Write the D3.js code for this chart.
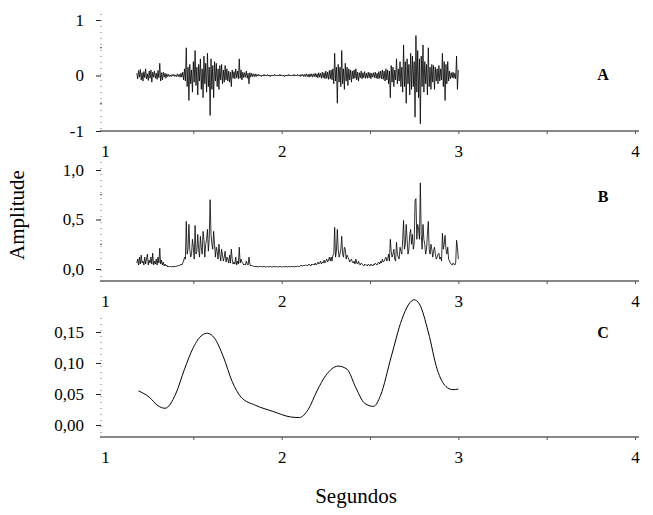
<!DOCTYPE html>
<html><head><meta charset="utf-8">
<script src="https://cdn.jsdelivr.net/npm/d3@7"></script>
<style>
html,body{margin:0;padding:0;background:#fff;}
svg{display:block;}
text{font-family:"Liberation Serif","Times New Roman",serif;fill:#000;}
</style></head>
<body><svg id="chart" width="653" height="515"></svg>
<script>
// ---- Data ----
const sampleStart = 1.18;   // s, first sample of A and B
const sampleStep = 0.005;   // s, sampling interval of A and B
// Panel A: waveform amplitude, 1.18 .. 3.00 s (rows of 0.1 s)
const waveA = [
  0.04,-0.06,0.09,-0.03,0.11,-0.08,0.05,-0.10,0.07,-0.04,0.12,-0.06,0.03,-0.09,0.08,-0.05,0.10,-0.12,0.06,-0.03,
  0.08,-0.05,0.04,-0.07,0.09,-0.04,0.22,-0.10,0.05,-0.08,0.06,-0.03,0.04,-0.05,0.03,-0.02,0.02,-0.02,0.01,-0.02,
  0.02,-0.01,0.02,-0.02,0.01,-0.02,0.03,-0.02,0.02,-0.03,0.04,-0.03,0.06,-0.08,0.12,-0.10,0.50,-0.20,0.15,-0.45,
  0.20,-0.15,0.10,-0.30,0.25,-0.12,0.45,-0.18,0.15,-0.35,0.20,-0.10,0.30,-0.25,0.12,-0.40,0.35,-0.15,0.22,-0.30,
  0.40,-0.20,0.15,-0.72,0.30,-0.25,0.18,-0.40,0.25,-0.10,0.22,-0.20,0.12,-0.25,0.18,-0.08,0.20,-0.15,0.10,-0.12,
  0.18,-0.08,0.12,-0.10,0.08,-0.12,0.06,-0.20,0.10,-0.05,0.07,-0.06,0.12,-0.04,0.08,-0.06,0.30,-0.05,0.10,-0.08,
  0.06,-0.04,0.05,-0.03,0.08,-0.05,0.04,-0.15,0.05,-0.03,0.04,-0.02,0.03,-0.02,0.03,-0.02,0.02,-0.01,0.02,-0.01,
  0.01,-0.02,0.01,-0.01,0.02,-0.01,0.01,-0.01,0.02,-0.01,0.01,-0.02,0.01,-0.01,0.01,-0.01,0.02,-0.01,0.01,-0.01,
  0.01,-0.01,0.02,-0.01,0.01,-0.01,0.01,-0.02,0.01,-0.01,0.01,-0.01,0.02,-0.01,0.01,-0.01,0.01,-0.01,0.02,-0.01,
  0.01,-0.01,0.02,-0.01,0.01,-0.02,0.02,-0.01,0.02,-0.02,0.02,-0.02,0.03,-0.02,0.02,-0.03,0.03,-0.02,0.03,-0.03,
  0.03,-0.02,0.04,-0.03,0.03,-0.04,0.05,-0.03,0.04,-0.05,0.06,-0.04,0.05,-0.06,0.08,-0.05,0.06,-0.07,0.09,-0.06,
  0.10,-0.08,0.12,-0.15,0.40,-0.10,0.15,-0.50,0.20,-0.12,0.15,-0.20,0.45,-0.15,0.12,-0.25,0.22,-0.10,0.15,-0.18,
  0.12,-0.08,0.10,-0.12,0.08,-0.06,0.10,-0.05,0.12,-0.08,0.06,-0.10,0.05,-0.04,0.08,-0.06,0.05,-0.04,0.07,-0.05,
  0.04,-0.05,0.06,-0.04,0.05,-0.06,0.04,-0.03,0.05,-0.04,0.06,-0.05,0.04,-0.06,0.07,-0.05,0.08,-0.06,0.10,-0.07,
  0.08,-0.10,0.12,-0.08,0.10,-0.15,0.08,-0.40,0.18,-0.12,0.15,-0.20,0.10,-0.08,0.30,-0.15,0.12,-0.10,0.25,-0.20,
  0.15,-0.30,0.55,-0.20,0.25,-0.50,0.30,-0.15,0.20,-0.35,0.40,-0.25,0.35,-0.20,0.25,-0.75,0.72,-0.30,0.45,-0.40,
  0.30,-0.87,0.35,-0.20,0.55,-0.30,0.25,-0.15,0.20,-0.35,0.50,-0.20,0.15,-0.25,0.20,-0.12,0.18,-0.25,0.15,-0.10,
  0.12,-0.15,0.18,-0.10,0.12,-0.08,0.40,-0.20,0.25,-0.45,0.20,-0.15,0.25,-0.10,0.08,-0.06,0.05,-0.04,0.06,-0.05,
  0.04,-0.06,0.35,-0.25,0.10
];
// Panel B: rectified amplitude (same sampling)
const rectB = [
  0.06,0.10,0.04,0.12,0.05,0.14,0.06,0.08,0.04,0.12,0.05,0.10,0.15,0.04,0.09,0.06,0.12,0.05,0.16,0.04,
  0.08,0.05,0.10,0.04,0.12,0.06,0.21,0.05,0.09,0.04,0.07,0.03,0.05,0.03,0.04,0.02,0.03,0.02,0.03,0.02,
  0.02,0.03,0.02,0.03,0.02,0.03,0.03,0.04,0.03,0.04,0.05,0.04,0.06,0.08,0.12,0.10,0.48,0.15,0.20,0.45,
  0.20,0.12,0.15,0.30,0.22,0.10,0.44,0.15,0.18,0.35,0.20,0.12,0.33,0.22,0.15,0.38,0.30,0.12,0.25,0.30,
  0.40,0.18,0.30,0.70,0.35,0.25,0.20,0.38,0.25,0.12,0.22,0.18,0.10,0.25,0.15,0.08,0.20,0.14,0.08,0.12,
  0.18,0.07,0.12,0.10,0.06,0.14,0.06,0.20,0.10,0.05,0.07,0.05,0.12,0.04,0.08,0.05,0.22,0.06,0.10,0.07,
  0.06,0.04,0.05,0.04,0.08,0.05,0.04,0.12,0.05,0.03,0.04,0.03,0.03,0.02,0.03,0.02,0.03,0.02,0.02,0.03,
  0.02,0.03,0.02,0.02,0.03,0.02,0.02,0.02,0.03,0.02,0.02,0.03,0.02,0.02,0.02,0.03,0.02,0.02,0.03,0.02,
  0.02,0.02,0.03,0.02,0.02,0.02,0.03,0.02,0.02,0.03,0.02,0.02,0.03,0.02,0.02,0.03,0.02,0.03,0.02,0.02,
  0.03,0.02,0.03,0.03,0.02,0.03,0.04,0.03,0.03,0.04,0.03,0.04,0.04,0.03,0.04,0.05,0.04,0.03,0.05,0.04,
  0.05,0.04,0.06,0.04,0.05,0.07,0.05,0.06,0.08,0.05,0.07,0.06,0.09,0.06,0.08,0.10,0.07,0.09,0.12,0.08,
  0.12,0.08,0.14,0.15,0.42,0.12,0.18,0.40,0.20,0.12,0.15,0.20,0.33,0.15,0.12,0.22,0.20,0.10,0.14,0.12,
  0.10,0.07,0.09,0.10,0.07,0.06,0.08,0.05,0.10,0.06,0.05,0.08,0.05,0.04,0.06,0.05,0.04,0.03,0.05,0.04,
  0.04,0.03,0.05,0.04,0.03,0.05,0.04,0.03,0.05,0.04,0.06,0.05,0.04,0.06,0.07,0.05,0.08,0.06,0.10,0.07,
  0.08,0.10,0.12,0.08,0.10,0.15,0.08,0.30,0.18,0.12,0.15,0.20,0.10,0.08,0.27,0.15,0.12,0.10,0.22,0.18,
  0.15,0.30,0.49,0.20,0.25,0.45,0.30,0.15,0.20,0.35,0.40,0.25,0.35,0.20,0.25,0.69,0.71,0.30,0.45,0.40,
  0.30,0.87,0.35,0.20,0.45,0.30,0.25,0.15,0.20,0.35,0.48,0.20,0.15,0.25,0.20,0.12,0.18,0.22,0.15,0.10,
  0.12,0.15,0.16,0.10,0.12,0.08,0.36,0.20,0.25,0.34,0.20,0.15,0.22,0.10,0.08,0.06,0.05,0.04,0.06,0.05,
  0.04,0.06,0.29,0.22,0.10
];
// Panel C: smoothed envelope
const envTimes  = [1.19,1.25,1.30,1.34,1.40,1.45,1.50,1.55,1.58,1.62,1.67,1.72,1.77,1.85,1.95,2.05,2.10,2.15,2.20,2.25,2.32,2.37,2.42,2.47,2.52,2.56,2.62,2.68,2.72,2.75,2.78,2.83,2.88,2.93,2.97,3.00];
const envValues = [0.055,0.045,0.031,0.027,0.050,0.090,0.125,0.145,0.148,0.140,0.110,0.070,0.045,0.032,0.022,0.013,0.012,0.025,0.055,0.080,0.095,0.090,0.060,0.035,0.030,0.048,0.110,0.170,0.195,0.202,0.195,0.150,0.090,0.062,0.057,0.058];

const xTicks = [1,2,3,4];
const xMinorTicks = [1.5,2,2.5,3,3.5,4];
const yTicksA = [-1,0,1], yMinorA = [-0.5,0.5];
const yTicksB = [0,0.5,1.0], yMinorB = [0.25,0.75];
const yTicksC = [0,0.05,0.10,0.15];
const panelLabels = ["A","B","C"];

// ---- Drawing ----
const svg = d3.select("#chart");
const x = d3.scaleLinear().domain([1,4]).range([105,635]);

const panels = [
  {y: d3.scaleLinear().domain([-1,1]).range([131,20]), axisY:131, top:14, ticks:yTicksA, minor:yMinorA,
   fmt: d => String(d), data: waveA.map((v,i)=>[sampleStart+i*sampleStep, v]), label:panelLabels[0], labelY:80},
  {y: d3.scaleLinear().domain([0,1]).range([269,170]), axisY:281, top:162, ticks:yTicksB, minor:yMinorB,
   fmt: d => d.toFixed(1).replace(".", ","), data: rectB.map((v,i)=>[sampleStart+i*sampleStep, v]), label:panelLabels[1], labelY:202},
  {y: d3.scaleLinear().domain([0,0.15]).range([425,332]), axisY:437, top:318, ticks:yTicksC, minor:[],
   fmt: d => d.toFixed(2).replace(".", ","), data: envTimes.map((t,i)=>[t, envValues[i]]), label:panelLabels[2], labelY:338, smooth:true}
];

panels.forEach(p => {
  const g = svg.append("g");
  const yAx = g.append("g").attr("transform","translate(101,0)")
    .call(d3.axisLeft(p.y).tickValues(p.ticks).tickSize(5).tickPadding(12).tickFormat(p.fmt));
  yAx.select(".domain").remove();
  yAx.selectAll("text").style("font-size","17px");
  yAx.selectAll(".tick line").attr("stroke","#222");
  g.append("line").attr("x1",101).attr("x2",101)
    .attr("y1", p.top).attr("y2", p.axisY)
    .attr("stroke","#777").attr("stroke-width",1).attr("stroke-dasharray","1,5");
  p.minor.forEach(m => g.append("line").attr("x1",100).attr("x2",102)
    .attr("y1",p.y(m)).attr("y2",p.y(m)).attr("stroke","#444"));
  // x axis baseline spanning from the y axis to the right edge
  g.append("line").attr("x1",100).attr("x2",639).attr("y1",p.axisY).attr("y2",p.axisY)
    .attr("stroke","#111").attr("stroke-width",1.2);
  const xAx = g.append("g").attr("transform",`translate(0,${p.axisY})`)
    .call(d3.axisBottom(x).tickValues(xTicks).tickSize(0).tickPadding(14).tickFormat(d3.format("d")));
  xAx.select(".domain").remove();
  xAx.selectAll("text").style("font-size","17px");
  const xMin = g.append("g").attr("transform",`translate(0,${p.axisY})`)
    .call(d3.axisBottom(x).tickValues(xMinorTicks).tickSize(3).tickFormat(""));
  xMin.select(".domain").remove();
  xMin.selectAll(".tick line").attr("stroke","#555");
  const line = d3.line().x(d=>x(d[0])).y(d=>p.y(d[1]));
  if (p.smooth) line.curve(d3.curveMonotoneX);
  g.append("path").datum(p.data).attr("d", line)
    .attr("fill","none").attr("stroke","#000").attr("stroke-width", p.smooth ? 1 : 0.8);
  g.append("text").attr("x",603).attr("y",p.labelY).attr("text-anchor","middle")
    .style("font-size","16px").style("font-weight","bold").text(p.label);
});

svg.append("text").attr("transform","translate(24,215) rotate(-90)").attr("text-anchor","middle")
  .style("font-size","21px").text("Amplitude");
svg.append("text").attr("x",356).attr("y",503).attr("text-anchor","middle")
  .style("font-size","21px").text("Segundos");
</script></body></html>
